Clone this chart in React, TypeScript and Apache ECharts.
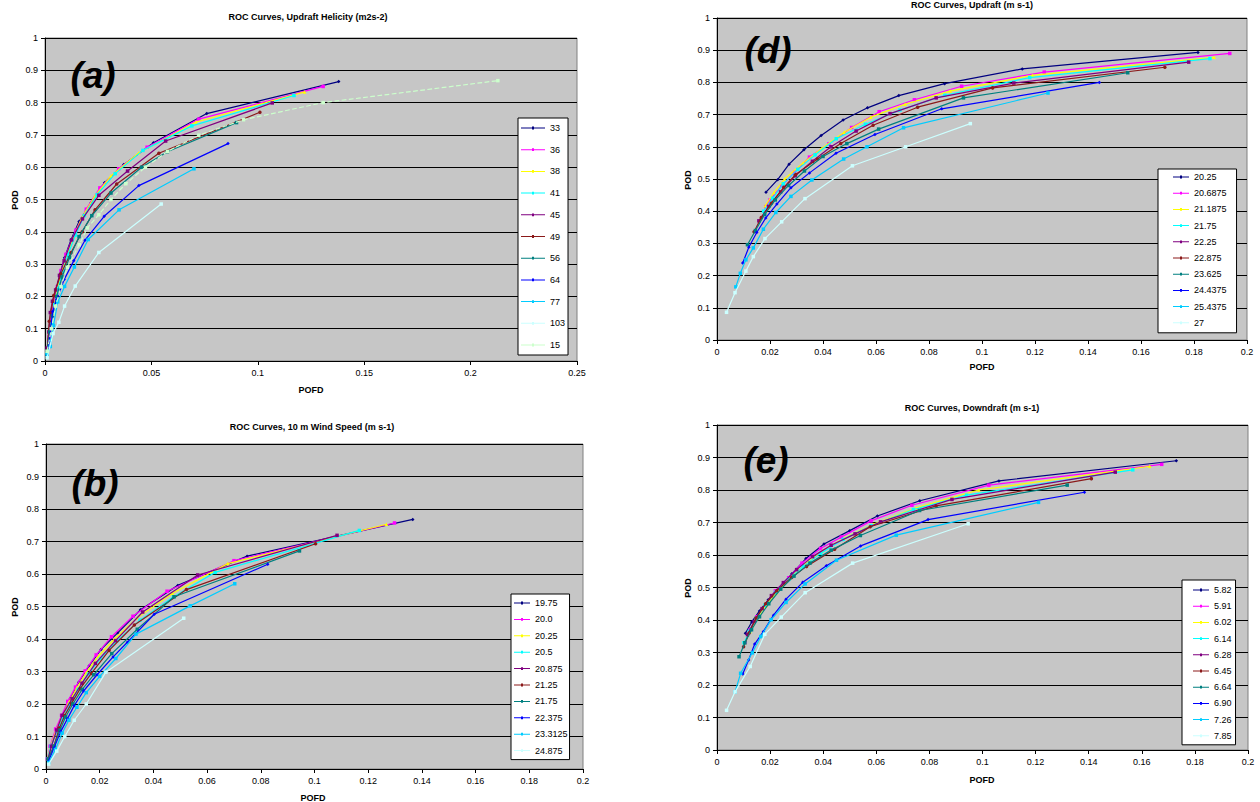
import React, { useEffect, useRef } from 'react';
import * as echarts from 'echarts';

const FONT = '"Liberation Sans", Arial, Helvetica, sans-serif';

// ---------- Panel (a): Updraft Helicity ----------
const helicityNames = ['33', '36', '38', '41', '45', '49', '56', '64', '77', '103', '15'];
const a33 = [[0.001,0.03],[0.002,0.07],[0.003,0.125],[0.004,0.175],[0.0055,0.225],[0.007,0.268],[0.0092,0.32],[0.0122,0.375],[0.016,0.432],[0.0217,0.49],[0.028,0.552],[0.037,0.608],[0.051,0.676],[0.076,0.766],[0.138,0.865]];
const a36 = [[0.001,0.03],[0.002,0.075],[0.003,0.13],[0.0042,0.18],[0.0058,0.23],[0.0075,0.28],[0.0098,0.33],[0.0145,0.405],[0.0194,0.47],[0.0258,0.536],[0.0346,0.595],[0.048,0.662],[0.0723,0.749],[0.1307,0.85]];
const a38 = [[0.001,0.03],[0.002,0.07],[0.003,0.12],[0.0045,0.18],[0.006,0.228],[0.0078,0.275],[0.0102,0.328],[0.0135,0.385],[0.0174,0.445],[0.0235,0.511],[0.031,0.573],[0.044,0.644],[0.071,0.74],[0.122,0.833]];
const a41 = [[0.001,0.025],[0.002,0.065],[0.0032,0.12],[0.0046,0.175],[0.0062,0.225],[0.0082,0.275],[0.0108,0.33],[0.0143,0.39],[0.0185,0.45],[0.0245,0.515],[0.033,0.58],[0.046,0.652],[0.069,0.728],[0.117,0.822]];
const a45 = [[0.001,0.04],[0.0018,0.09],[0.0025,0.15],[0.0035,0.185],[0.005,0.22],[0.0068,0.265],[0.009,0.31],[0.0125,0.375],[0.0176,0.44],[0.0253,0.513],[0.0388,0.588],[0.0567,0.681],[0.1068,0.799]];
const a49 = [[0.001,0.03],[0.002,0.123],[0.0041,0.203],[0.0075,0.27],[0.0122,0.335],[0.0175,0.4],[0.0235,0.468],[0.0337,0.548],[0.0535,0.643],[0.101,0.77]];
const a56 = [[0.001,0.03],[0.0022,0.09],[0.0035,0.14],[0.0055,0.2],[0.008,0.26],[0.0115,0.32],[0.016,0.385],[0.022,0.45],[0.031,0.52],[0.0454,0.6],[0.0575,0.648],[0.09,0.738]];
const a64 = [[0.001,0.02],[0.002,0.06],[0.0036,0.153],[0.0055,0.19],[0.009,0.252],[0.0135,0.31],[0.0188,0.374],[0.0278,0.448],[0.0441,0.543],[0.086,0.673]];
const a77 = [[0.001,0.02],[0.0025,0.045],[0.004,0.11],[0.006,0.183],[0.0092,0.231],[0.0138,0.291],[0.0203,0.376],[0.0348,0.468],[0.07,0.595]];
const a103 = [[0.001,0.01],[0.0038,0.085],[0.0065,0.12],[0.0092,0.17],[0.0142,0.232],[0.0253,0.336],[0.0546,0.486]];
const a15 = [[0.001,0.03],[0.003,0.1],[0.005,0.17],[0.0075,0.23],[0.0105,0.29],[0.0161,0.36],[0.0199,0.412],[0.0253,0.453],[0.031,0.5],[0.038,0.549],[0.0472,0.6],[0.0576,0.649],[0.0723,0.699],[0.0933,0.747],[0.1307,0.8],[0.2128,0.868]];
const helicitySeries = [a33, a36, a38, a41, a45, a49, a56, a64, a77, a103, a15];

// ---------- Panel (d): Updraft ----------
const updraftNames = ['20.25', '20.6875', '21.1875', '21.75', '22.25', '22.875', '23.625', '24.4375', '25.4375', '27'];
const d1 = [[0.0185,0.459],[0.0229,0.498],[0.0272,0.546],[0.0328,0.591],[0.0393,0.635],[0.0476,0.683],[0.0568,0.721],[0.0686,0.759],[0.0859,0.796],[0.1152,0.842],[0.1815,0.893]];
const d2 = [[0.0184,0.414],[0.02,0.435],[0.0244,0.479],[0.0293,0.521],[0.0349,0.568],[0.0422,0.609],[0.0508,0.66],[0.0612,0.709],[0.0745,0.746],[0.0923,0.788],[0.1235,0.832],[0.1935,0.89]];
const d3 = [[0.0182,0.417],[0.0215,0.458],[0.0255,0.5],[0.0325,0.55],[0.0395,0.595],[0.048,0.645],[0.058,0.692],[0.071,0.732],[0.088,0.773],[0.119,0.822],[0.1876,0.878]];
const d4 = [[0.0176,0.4],[0.021,0.44],[0.025,0.485],[0.0305,0.53],[0.037,0.575],[0.045,0.625],[0.056,0.67],[0.069,0.714],[0.086,0.76],[0.118,0.815],[0.186,0.874]];
const d5 = [[0.0158,0.37],[0.0195,0.415],[0.024,0.46],[0.0295,0.51],[0.036,0.555],[0.043,0.6],[0.0525,0.649],[0.0653,0.703],[0.0827,0.752],[0.112,0.798],[0.178,0.863]];
const d6 = [[0.014,0.336],[0.0167,0.38],[0.0205,0.425],[0.0252,0.474],[0.0297,0.514],[0.0379,0.562],[0.0467,0.61],[0.0589,0.667],[0.0757,0.723],[0.104,0.783],[0.169,0.847]];
const d7 = [[0.0115,0.296],[0.0145,0.34],[0.018,0.39],[0.022,0.435],[0.027,0.48],[0.033,0.525],[0.04,0.57],[0.049,0.61],[0.061,0.655],[0.093,0.752],[0.155,0.83]];
const d8 = [[0.0097,0.239],[0.012,0.288],[0.015,0.334],[0.0184,0.379],[0.0226,0.422],[0.0279,0.473],[0.0349,0.519],[0.0449,0.58],[0.0596,0.638],[0.0848,0.718],[0.1443,0.8]];
const d9 = [[0.0071,0.165],[0.0088,0.207],[0.0109,0.249],[0.0137,0.286],[0.0175,0.344],[0.0222,0.396],[0.0279,0.446],[0.0358,0.497],[0.0478,0.562],[0.0566,0.6],[0.0704,0.659],[0.1249,0.767]];
const d10 = [[0.0036,0.086],[0.0068,0.147],[0.0109,0.214],[0.0137,0.259],[0.0181,0.315],[0.0244,0.367],[0.0332,0.439],[0.0511,0.541],[0.0712,0.6],[0.0956,0.672]];
const updraftSeries = [d1, d2, d3, d4, d5, d6, d7, d8, d9, d10];

// ---------- Panel (b): 10 m Wind Speed ----------
const windNames = ['19.75', '20.0', '20.25', '20.5', '20.875', '21.25', '21.75', '22.375', '23.3125', '24.875'];
const b1 = [[0.0007,0.034],[0.0019,0.07],[0.004,0.124],[0.0062,0.164],[0.0091,0.218],[0.0122,0.267],[0.0161,0.318],[0.0205,0.368],[0.0267,0.419],[0.0352,0.49],[0.0491,0.565],[0.0749,0.655],[0.1366,0.768]];
const b2 = [[0.0005,0.03],[0.0015,0.07],[0.0036,0.123],[0.0058,0.165],[0.0081,0.208],[0.011,0.252],[0.0146,0.302],[0.0187,0.351],[0.0244,0.407],[0.0324,0.47],[0.0451,0.547],[0.07,0.641],[0.1298,0.757]];
const b3 = [[0.0005,0.03],[0.0017,0.07],[0.0038,0.12],[0.006,0.16],[0.0085,0.205],[0.0115,0.25],[0.015,0.297],[0.0195,0.347],[0.0255,0.4],[0.034,0.465],[0.047,0.54],[0.0677,0.632],[0.1268,0.753]];
const b4 = [[0.0006,0.03],[0.0018,0.07],[0.004,0.115],[0.0063,0.155],[0.009,0.2],[0.012,0.245],[0.0158,0.292],[0.0203,0.34],[0.0265,0.395],[0.035,0.458],[0.0475,0.53],[0.063,0.605],[0.1167,0.734]];
const b5 = [[0.0007,0.03],[0.002,0.07],[0.004,0.12],[0.006,0.165],[0.0097,0.216],[0.0134,0.264],[0.0184,0.325],[0.0259,0.395],[0.036,0.483],[0.0565,0.597],[0.1084,0.719]];
const b6 = [[0.0008,0.03],[0.0029,0.07],[0.005,0.126],[0.0069,0.164],[0.0095,0.202],[0.0128,0.248],[0.0169,0.294],[0.0235,0.365],[0.0329,0.443],[0.0523,0.552],[0.1004,0.693]];
const b7 = [[0.0008,0.03],[0.003,0.07],[0.0052,0.12],[0.0073,0.16],[0.01,0.2],[0.0135,0.245],[0.0178,0.29],[0.0245,0.355],[0.034,0.43],[0.0477,0.53],[0.0944,0.671]];
const b8 = [[0.001,0.025],[0.003,0.065],[0.0055,0.115],[0.008,0.155],[0.0105,0.195],[0.014,0.24],[0.019,0.29],[0.025,0.345],[0.0303,0.39],[0.0403,0.476],[0.0826,0.63]];
const b9 = [[0.001,0.02],[0.0035,0.06],[0.006,0.11],[0.0085,0.15],[0.0115,0.19],[0.015,0.235],[0.02,0.285],[0.026,0.34],[0.0335,0.415],[0.0537,0.502],[0.0703,0.57]];
const b10 = [[0.001,0.015],[0.004,0.055],[0.007,0.1],[0.0105,0.15],[0.015,0.2],[0.0223,0.298],[0.0513,0.464]];
const windSeries = [b1, b2, b3, b4, b5, b6, b7, b8, b9, b10];

// ---------- Panel (e): Downdraft ----------
const downdraftNames = ['5.82', '5.91', '6.02', '6.14', '6.28', '6.45', '6.64', '6.90', '7.26', '7.85'];
const e1 = [[0.0107,0.359],[0.0131,0.394],[0.016,0.428],[0.0193,0.462],[0.0231,0.497],[0.0282,0.542],[0.0335,0.589],[0.0403,0.634],[0.05,0.675],[0.0604,0.72],[0.0764,0.767],[0.1062,0.828],[0.173,0.89]];
const e2 = [[0.0105,0.33],[0.0125,0.37],[0.015,0.41],[0.0183,0.445],[0.022,0.49],[0.027,0.53],[0.032,0.575],[0.039,0.62],[0.0468,0.655],[0.058,0.705],[0.0734,0.753],[0.1024,0.815],[0.1675,0.879]];
const e3 = [[0.0105,0.33],[0.0125,0.365],[0.015,0.405],[0.0185,0.445],[0.0225,0.485],[0.0275,0.53],[0.033,0.57],[0.0395,0.612],[0.048,0.652],[0.059,0.695],[0.075,0.745],[0.0986,0.8],[0.163,0.873]];
const e4 = [[0.0102,0.33],[0.0122,0.365],[0.0148,0.405],[0.018,0.445],[0.022,0.485],[0.027,0.525],[0.0325,0.565],[0.039,0.605],[0.0475,0.648],[0.058,0.69],[0.074,0.74],[0.094,0.784],[0.1566,0.862]];
const e5 = [[0.0115,0.355],[0.014,0.395],[0.017,0.435],[0.0205,0.475],[0.025,0.515],[0.03,0.555],[0.036,0.595],[0.043,0.63],[0.052,0.665],[0.0616,0.702],[0.0885,0.771],[0.15,0.855]];
const e6 = [[0.01,0.318],[0.0121,0.36],[0.0147,0.406],[0.0183,0.45],[0.0225,0.49],[0.0281,0.531],[0.0337,0.565],[0.0443,0.618],[0.0577,0.687],[0.0825,0.751],[0.141,0.835]];
const e7 = [[0.0083,0.287],[0.0105,0.33],[0.013,0.37],[0.016,0.41],[0.0195,0.45],[0.024,0.495],[0.029,0.535],[0.035,0.575],[0.043,0.615],[0.054,0.66],[0.0763,0.737],[0.1319,0.815]];
const e8 = [[0.0097,0.234],[0.0119,0.277],[0.0142,0.326],[0.0175,0.365],[0.0213,0.415],[0.026,0.464],[0.0323,0.516],[0.0412,0.567],[0.0541,0.628],[0.0795,0.709],[0.1384,0.793]];
const e9 = [[0.0068,0.179],[0.0089,0.236],[0.0133,0.299],[0.0165,0.349],[0.0204,0.401],[0.026,0.454],[0.0332,0.511],[0.045,0.584],[0.0675,0.661],[0.1211,0.762]];
const e10 = [[0.0036,0.122],[0.0068,0.179],[0.0125,0.257],[0.018,0.356],[0.0242,0.409],[0.0332,0.484],[0.0511,0.575],[0.0946,0.696]];
const downdraftSeries = [e1, e2, e3, e4, e5, e6, e7, e8, e9, e10];

const podTicks = ['0', '0.1', '0.2', '0.3', '0.4', '0.5', '0.6', '0.7', '0.8', '0.9', '1'];

// ---------- styles ----------
const PALETTE = ['#000080', '#FF00FF', '#FFFF00', '#00FFFF', '#800080', '#8B1A1A', '#008080', '#0000FF', '#00CCFF', '#CCFFFF', '#CCFFCC'];
const SYMBOLS = ['diamond', 'rect', 'triangle', 'rect', 'rect', 'circle', 'rect', 'diamond', 'rect', 'rect', 'rect'];

const ICON24 = 'path://M0,0 M24,10 M0,4.5 L24,4.5 L24,5.5 L0,5.5 Z M11,3.6 L13,3.6 L13,6.4 L11,6.4 Z';
const ICON16 = 'path://M0,0 M16,10 M0,4.5 L16,4.5 L16,5.5 L0,5.5 Z M7,3.6 L9,3.6 L9,6.4 L7,6.4 Z';

const panels = [
  { key: 'a', names: helicityNames, series: helicitySeries, xMax: 0.25, xInt: 0.05,
    grid: { left: 45, top: 38, width: 532, height: 323 },
    legend: { left: 518, top: 118, padding: [5, 3, 5, 3], itemGap: 11.7, itemWidth: 24, icon: ICON24 },
    title: 'ROC Curves, Updraft Helicity (m2s-2)', titlePos: [308, 17],
    letter: '(a)', letterPos: [93, 75], pod: [15, 200], pofd: [311, 390], dashedLast: true },
  { key: 'd', names: updraftNames, series: updraftSeries, xMax: 0.2, xInt: 0.02,
    grid: { left: 717, top: 18, width: 530, height: 322 },
    legend: { left: 1158, top: 169, padding: [3, 10, 5, 15], itemGap: 6.2, itemWidth: 16, icon: ICON16 },
    title: 'ROC Curves, Updraft (m s-1)', titlePos: [972, 5],
    letter: '(d)', letterPos: [768, 50], pod: [688, 180], pofd: [982, 367], dashedLast: false },
  { key: 'b', names: windNames, series: windSeries, xMax: 0.2, xInt: 0.02,
    grid: { left: 46, top: 444, width: 537, height: 325 },
    legend: { left: 511, top: 594, padding: [4, 2, 4, 3], itemGap: 6.4, itemWidth: 16, icon: ICON16 },
    title: 'ROC Curves, 10 m Wind Speed (m s-1)', titlePos: [312, 427],
    letter: '(b)', letterPos: [95, 483], pod: [15, 607], pofd: [313, 798], dashedLast: false },
  { key: 'e', names: downdraftNames, series: downdraftSeries, xMax: 0.2, xInt: 0.02,
    grid: { left: 717, top: 425, width: 531, height: 325 },
    legend: { left: 1182, top: 580, padding: [5, 4, 4, 11], itemGap: 6.2, itemWidth: 16, icon: ICON16 },
    title: 'ROC Curves, Downdraft (m s-1)', titlePos: [972, 408],
    letter: '(e)', letterPos: [766, 460], pod: [688, 588], pofd: [982, 780], dashedLast: false },
];

function buildOption() {
  const grid: any[] = [];
  const xAxis: any[] = [];
  const yAxis: any[] = [];
  const series: any[] = [];
  const legend: any[] = [];
  const graphic: any[] = [];

  panels.forEach((p, pi) => {
    grid.push({
      ...p.grid,
      show: true,
      backgroundColor: '#C6C6C6',
      borderColor: '#808080',
      borderWidth: 1,
      containLabel: false,
    });
    xAxis.push({
      type: 'value', gridIndex: pi, min: 0, max: p.xMax, interval: p.xInt,
      axisLine: { show: true, onZero: false, lineStyle: { color: '#000', width: 1 } },
      axisTick: { show: true, length: 4, lineStyle: { color: '#000' } },
      axisLabel: {
        color: '#000', fontSize: 9, fontFamily: FONT, margin: 7,
        formatter: (v: number) => String(+v.toFixed(2)),
      },
      splitLine: { show: false },
    });
    yAxis.push({
      type: 'value', gridIndex: pi, min: 0, max: 1, interval: 0.1,
      axisLine: { show: true, onZero: false, lineStyle: { color: '#000', width: 1 } },
      axisTick: { show: true, length: 4, lineStyle: { color: '#000' } },
      axisLabel: {
        color: '#000', fontSize: 9, fontFamily: FONT, margin: 7,
        formatter: (v: number) => podTicks[Math.round(v * 10)],
      },
      splitLine: { show: true, lineStyle: { color: '#000', width: 1 } },
    });
    const legendData: any[] = [];
    p.names.forEach((n, i) => {
      const name = p.key + ':' + n;
      const color = PALETTE[i];
      const dashed = p.dashedLast && i === p.names.length - 1;
      legendData.push(name);
      series.push({
        type: 'line', name, xAxisIndex: pi, yAxisIndex: pi,
        data: p.series[i],
        symbol: SYMBOLS[i], symbolSize: 3.5, showSymbol: true,
        lineStyle: { color, width: 1.2, type: dashed ? 'dashed' : 'solid' },
        itemStyle: { color },
        emphasis: { disabled: true },
        z: 3 + i * 0.01,
      });
    });
    legend.push({
      orient: 'vertical',
      left: p.legend.left, top: p.legend.top,
      padding: p.legend.padding, itemGap: p.legend.itemGap,
      itemWidth: p.legend.itemWidth, itemHeight: 10,
      icon: p.legend.icon,
      backgroundColor: '#FFFFFF', borderColor: '#000', borderWidth: 1,
      selectedMode: false,
      textStyle: { fontSize: 9, fontFamily: FONT, color: '#000', lineHeight: 10 },
      formatter: (n: string) => n.split(':')[1],
      data: legendData,
    });
    graphic.push({
      type: 'text', x: p.titlePos[0], y: p.titlePos[1],
      style: { text: p.title, fontSize: 9, fontWeight: 'bold', fontFamily: FONT, fill: '#000', align: 'center', verticalAlign: 'middle' },
    });
    graphic.push({
      type: 'text', x: p.letterPos[0], y: p.letterPos[1], z: 10,
      style: { text: p.letter, fontSize: 37, fontWeight: 'bold', fontStyle: 'italic', fontFamily: FONT, fill: '#000', align: 'center', verticalAlign: 'middle' },
    });
    graphic.push({
      type: 'text', x: p.pod[0], y: p.pod[1], rotation: Math.PI / 2,
      style: { text: 'POD', fontSize: 9, fontWeight: 'bold', fontFamily: FONT, fill: '#000', align: 'center', verticalAlign: 'middle' },
    });
    graphic.push({
      type: 'text', x: p.pofd[0], y: p.pofd[1],
      style: { text: 'POFD', fontSize: 9, fontWeight: 'bold', fontFamily: FONT, fill: '#000', align: 'center', verticalAlign: 'middle' },
    });
  });

  return {
    animation: false,
    backgroundColor: '#FFFFFF',
    textStyle: { fontFamily: FONT },
    grid, xAxis, yAxis, series, legend, graphic,
  };
}

export default function App() {
  const ref = useRef<HTMLDivElement>(null);
  useEffect(() => {
    if (!ref.current) return;
    const chart = echarts.init(ref.current, undefined, { renderer: 'svg' });
    chart.setOption(buildOption() as any);
    return () => chart.dispose();
  }, []);
  return (
    <div
      ref={ref}
      style={{ position: 'absolute', left: 0, top: 0, width: 1260, height: 802, background: '#fff' }}
    />
  );
}
